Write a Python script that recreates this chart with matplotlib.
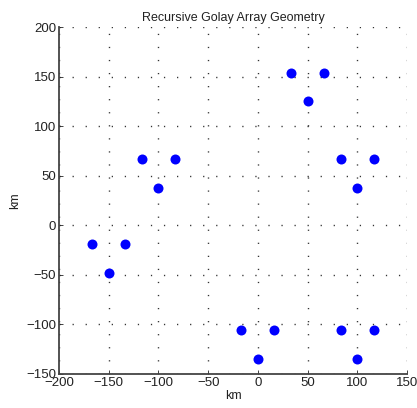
import matplotlib
matplotlib.use('Agg')
import matplotlib.pyplot as plt

plt.rcParams['font.family'] = ['Liberation Sans', 'DejaVu Sans']

# station positions (km)
x_km = [33.3, 66.7, 50.0,
        83.3, 116.7, 100.0,
        -116.7, -83.3, -100.0,
        -166.7, -133.3, -150.0,
        -16.7, 16.7, 0.0,
        83.3, 116.7, 100.0]
y_km = [154.0, 154.0, 125.0,
        67.0, 67.0, 38.0,
        67.0, 67.0, 38.0,
        -19.0, -19.0, -48.0,
        -106.0, -106.0, -135.0,
        -106.0, -106.0, -135.0]

xticks = [-200, -150, -100, -50, 0, 50, 100, 150]
yticks = [-150, -100, -50, 0, 50, 100, 150, 200]

fig = plt.figure(figsize=(4.17, 4.08), dpi=100)
ax = fig.add_axes([59 / 417, 1 - 374 / 408, 348 / 417, 347 / 408])

ax.plot(x_km, y_km, 'o', color='#0000ff', markersize=7.2, markeredgewidth=0)

ax.set_xlim(-200, 150)
ax.set_ylim(-150, 200)
ax.set_xticks(xticks)
ax.set_yticks(yticks)
ax.set_xticklabels([str(v).replace('-', '\u2212') for v in xticks])
ax.set_yticklabels([str(v).replace('-', '\u2212') for v in yticks])
ax.tick_params(direction='in', length=3, width=0.6, labelsize=9.5,
               colors='#222222', pad=2)

ax.grid(True, linestyle=(0, (0.9, 8.5)), color='#333333', linewidth=1.0)
for side in ['top', 'right']:
    ax.spines[side].set_visible(False)
for side in ['left', 'bottom']:
    ax.spines[side].set_color('#444444')
    ax.spines[side].set_linewidth(1.3)

ax.set_title('Recursive Golay Array Geometry', fontsize=9, color='#222222', pad=4)
ax.set_xlabel('km', fontsize=9, color='#222222', labelpad=1)
ax.set_ylabel('km', fontsize=9, color='#222222', labelpad=4)

fig.savefig('out.png', dpi=100)
